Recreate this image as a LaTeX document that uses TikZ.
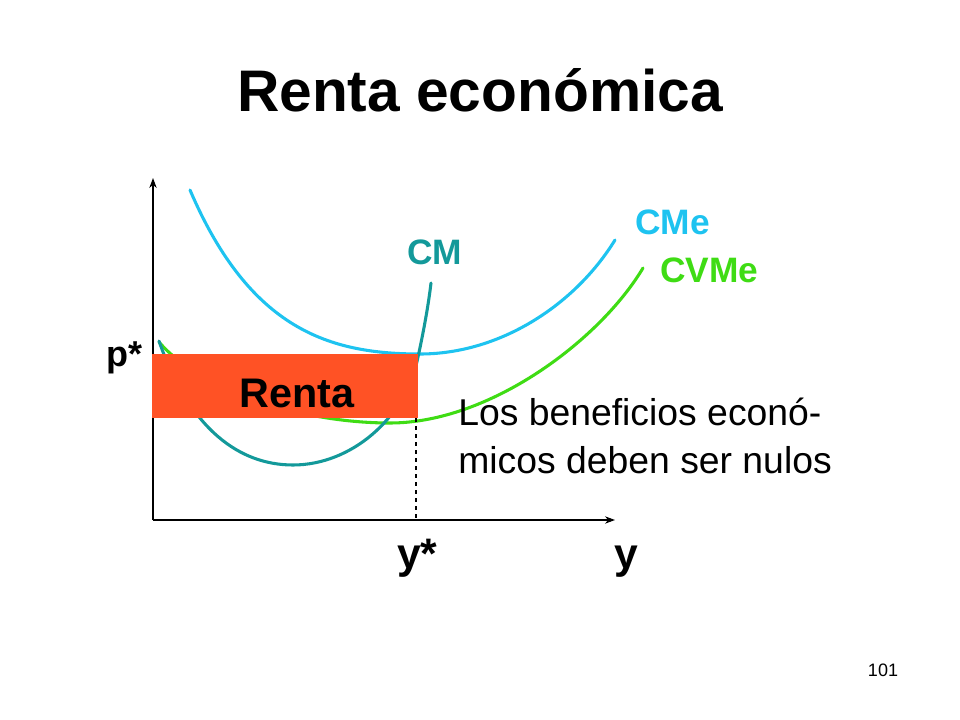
\documentclass[tikz,border=0pt]{standalone}
\usepackage{fontspec}
\setmainfont{Liberation Sans}
\usetikzlibrary{arrows.meta}
\definecolor{colcme}{HTML}{1EC3F0}
\definecolor{colcvme}{HTML}{3FDC14}
\definecolor{colcm}{HTML}{13999A}
\definecolor{colrenta}{HTML}{FF5225}
\begin{document}
\begin{tikzpicture}[x=.75pt,y=-.75pt,>={Stealth[length=7.5pt,width=5.5pt]},every node/.style={inner sep=0pt,font=\bfseries},
	curve/.style={line width=2.3pt,line cap=round},
	lbl/.style={anchor=base west,font=\fontsize{26.5}{30}\selectfont\bfseries}]
		\useasboundingbox(0,0)rectangle(960,720);
		\coordinate(O)at(153,520);
		\coordinate(X)at(615,520);
		\coordinate(Y)at(153,178);
		\coordinate(A)at(152,354);
		\coordinate(B)at(418,418);
		\coordinate(E)at(416,520);
		\coordinate(M1)at(420,354);
		\coordinate(M2)at(390,423);
		\coordinate(M3)at(293,465);
		%ejes
		\draw[->,line width=.8pt](O)--(X);
		\draw[->,line width=.8pt](O)--(Y);
		%curvas de costes
		\draw[curve,colcme](190,190)..controls(250,330)and(330,354)..(M1)..controls(500,354)and(575,305)..(615,240);
		\draw[curve,colcvme](159,342)..controls(200,390)and(300,423)..(M2)..controls(490,423)and(600,340)..(643,268);
		\draw[curve,colcm](159,341)..controls(190,430)and(240,465)..(M3)..controls(350,465)and(405,420)..(418,357)..controls(425,325)and(429,300)..(431,283);
		\fill[colrenta](A)rectangle(B);
		\draw[dashed,line width=.8pt](B-|E)--(E);
		\node(titulo)[anchor=base,font=\fontsize{44}{50}\selectfont\bfseries]at(480,112){Renta económica};
		\node(renta)[anchor=base,font=\fontsize{31}{36}\selectfont\bfseries]at(297,407){Renta};
		\node(cmlbl)[lbl,text=colcm]at(407,265){CM};
		\node(cmelbl)[lbl,text=colcme]at(635,235){CMe};
		\node(cvmelbl)[lbl,text=colcvme]at(660,283){CVMe};
		\node(p)[anchor=base east,font=\fontsize{27}{30}\selectfont\bfseries]at(143,366){p*};
		\node(ys)[anchor=base west,font=\fontsize{32}{36}\selectfont\bfseries]at(397,568){y*};
		\node(y)[anchor=base west,font=\fontsize{32}{36}\selectfont\bfseries]at(614,568){y};
		\node(nota)[anchor=base west,align=left,font=\fontsize{28}{36}\selectfont\mdseries]at(458,473){Los beneficios econó-\\micos deben ser nulos};
		\node(num)[anchor=base,font=\fontsize{13.5}{16}\selectfont\mdseries]at(883,676){101};
	\end{tikzpicture}
\end{document}
